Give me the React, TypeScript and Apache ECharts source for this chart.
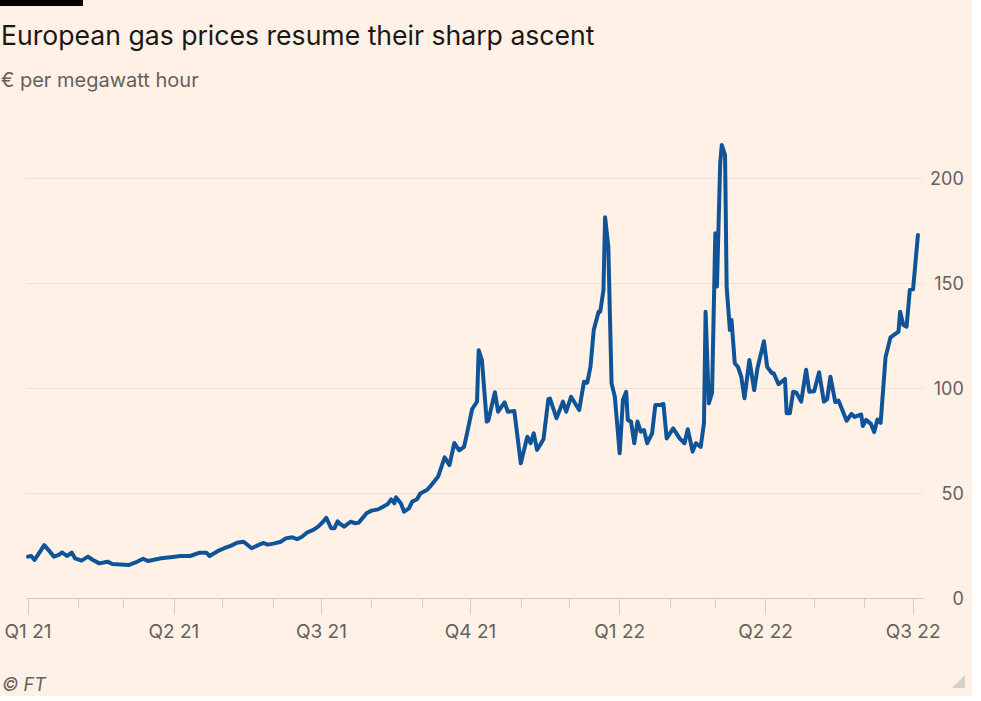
import React, { useEffect, useRef } from "react";
import * as echarts from "echarts";

const dates: string[] = [
  "2021-01-01","2021-01-03","2021-01-05","2021-01-08","2021-01-11","2021-01-15","2021-01-17","2021-01-20","2021-01-22","2021-01-25",
  "2021-01-28","2021-01-30","2021-02-03","2021-02-07","2021-02-10","2021-02-14","2021-02-19","2021-02-22","2021-02-27","2021-03-04",
  "2021-03-08","2021-03-13","2021-03-16","2021-03-19","2021-03-24","2021-03-30","2021-04-05","2021-04-11","2021-04-17","2021-04-21",
  "2021-04-23","2021-04-28","2021-05-02","2021-05-06","2021-05-10","2021-05-14","2021-05-19","2021-05-23","2021-05-26","2021-05-29",
  "2021-06-02","2021-06-06","2021-06-09","2021-06-13","2021-06-16","2021-06-19","2021-06-22","2021-06-26","2021-06-29","2021-07-02",
  "2021-07-04","2021-07-07","2021-07-09","2021-07-11","2021-07-12","2021-07-15","2021-07-19","2021-07-22","2021-07-24","2021-07-29",
  "2021-08-01","2021-08-05","2021-08-08","2021-08-11","2021-08-13","2021-08-15","2021-08-16","2021-08-19","2021-08-21","2021-08-24",
  "2021-08-26","2021-08-29","2021-08-31","2021-09-04","2021-09-06","2021-09-11","2021-09-15","2021-09-18","2021-09-21","2021-09-24",
  "2021-09-27","2021-09-29","2021-10-02","2021-10-05","2021-10-06","2021-10-08","2021-10-11","2021-10-12","2021-10-16","2021-10-18",
  "2021-10-22","2021-10-24","2021-10-28","2021-11-01","2021-11-05","2021-11-07","2021-11-09","2021-11-11","2021-11-15","2021-11-18",
  "2021-11-19","2021-11-23","2021-11-27","2021-11-29","2021-12-02","2021-12-07","2021-12-10","2021-12-12","2021-12-14","2021-12-16",
  "2021-12-19","2021-12-20","2021-12-22","2021-12-23","2021-12-25","2021-12-26","2021-12-27","2021-12-29","2022-01-01","2022-01-03",
  "2022-01-05","2022-01-06","2022-01-08","2022-01-10","2022-01-12","2022-01-14","2022-01-16","2022-01-18","2022-01-21","2022-01-23",
  "2022-01-26","2022-01-28","2022-01-30","2022-02-03","2022-02-07","2022-02-10","2022-02-12","2022-02-15","2022-02-17","2022-02-20",
  "2022-02-22","2022-02-23","2022-02-25","2022-02-27","2022-03-01","2022-03-02","2022-03-04","2022-03-05","2022-03-07","2022-03-08",
  "2022-03-10","2022-03-11","2022-03-13","2022-03-15","2022-03-17","2022-03-19","2022-03-22","2022-03-25","2022-03-27","2022-03-31",
  "2022-04-02","2022-04-05","2022-04-06","2022-04-09","2022-04-13","2022-04-14","2022-04-16","2022-04-18","2022-04-20","2022-04-23",
  "2022-04-26","2022-04-28","2022-05-01","2022-05-04","2022-05-07","2022-05-09","2022-05-11","2022-05-14","2022-05-16","2022-05-21",
  "2022-05-24","2022-05-26","2022-05-30","2022-05-31","2022-06-02","2022-06-05","2022-06-07","2022-06-09","2022-06-11","2022-06-14",
  "2022-06-17","2022-06-19","2022-06-22","2022-06-23","2022-06-25","2022-06-27","2022-06-29","2022-07-01","2022-07-04",
];

const prices: number[] = [
  19.7, 20, 18.1, 21.6, 25.2, 21.6, 19.7, 20.5, 21.7, 20,
  21.6, 18.9, 17.8, 19.7, 18.1, 16.5, 17.3, 16.2, 16, 15.7,
  16.8, 18.7, 17.6, 18.1, 18.9, 19.4, 20, 20, 21.6, 21.6,
  20, 22.3, 23.7, 24.8, 26.3, 26.8, 23.7, 25.2, 26.2, 25.4,
  26, 26.8, 28.4, 28.9, 28, 29.2, 31.1, 32.4, 34, 36.3,
  38.2, 33.2, 33.2, 36.5, 35.6, 34, 36.3, 35.6, 35.9, 40.5,
  41.6, 42.2, 43.5, 44.8, 47, 45.1, 48, 45.1, 41.1, 42.7,
  45.9, 47, 49.8, 51.4, 53, 57.8, 67, 63.3, 73.8, 70.3,
  72, 79, 90, 93.5, 118, 113.3, 84, 84.6, 98, 88.7,
  93.2, 88.7, 89, 64.1, 76.8, 73.7, 78.4, 70.5, 75.6, 94.7,
  95, 85.6, 93.5, 88.7, 95.8, 89.5, 103, 102.5, 110.2, 127.6,
  136.3, 136.3, 146.7, 181.3, 167.3, 134, 102.2, 95.9, 68.9, 94.3,
  98.2, 84.8, 84, 73.7, 84, 79.2, 80, 73.7, 78.4, 91.9,
  91.9, 92.4, 76, 80.8, 76, 73.7, 80.4, 69.7, 73.7, 72,
  83.2, 136.3, 92.7, 97.8, 173.7, 148.3, 207, 215.7, 211, 148,
  127.6, 132.4, 111.8, 110, 105.4, 95.1, 113.3, 99, 109.4, 122.3,
  110, 107, 107, 101.8, 104.3, 88, 88, 98.2, 97.8, 93.5,
  108.7, 98.2, 98.4, 107.5, 93.5, 94.7, 105.4, 93.3, 94, 84.4,
  87.7, 86.2, 87.4, 81.9, 84.8, 82.9, 79, 85, 83.4, 114.5,
  124, 125.2, 126.8, 136.3, 130, 129.2, 146.7, 147, 172.9,
];

const quarterDates: string[] = ["2021-01-01","2021-04-01","2021-07-01","2021-10-01","2022-01-01","2022-04-01","2022-07-01"];
const quarterLabels: string[] = ["Q1 21","Q2 21","Q3 21","Q4 21","Q1 22","Q2 22","Q3 22"];
const monthDates: string[] = [
  "2021-01-01","2021-02-01","2021-03-01","2021-04-01","2021-05-01","2021-06-01","2021-07-01","2021-08-01","2021-09-01","2021-10-01",
  "2021-11-01","2021-12-01","2022-01-01","2022-02-01","2022-03-01","2022-04-01","2022-05-01","2022-06-01","2022-07-01",
];
const gridValues: number[] = [50, 100, 150, 200];
const axisStart = "2020-12-31";
const axisEnd = "2022-07-07";

const FONT = 'Inter, "Open Sans", "Noto Sans", sans-serif';

function ts(s: string): number {
  const [y, m, d] = s.split("-").map(Number);
  return Date.UTC(y, m - 1, d);
}

export default function App() {
  const ref = useRef<HTMLDivElement>(null);

  useEffect(() => {
    if (!ref.current) return;
    const chart = echarts.init(ref.current, undefined, { renderer: "svg" });
    const quarterTs = quarterDates.map(ts);
    const monthTs = monthDates.map(ts);
    const seriesData = dates.map((d, i) => [ts(d), prices[i]]);
    const gridCommon = { left: 26.4, right: 49.2, top: 136, bottom: 98 };

    chart.setOption({
      animation: false,
      backgroundColor: "#fff1e5",
      grid: [gridCommon, gridCommon],
      xAxis: [
        {
          type: "value",
          gridIndex: 0,
          min: ts(axisStart),
          max: ts(axisEnd),
          splitLine: { show: false },
          axisLine: { show: true, lineStyle: { color: "#cfc8c1", width: 1 } },
          axisTick: { show: true, length: 10, customValues: monthTs, lineStyle: { color: "#d3ccc5", width: 1 } },
          axisLabel: {
            customValues: quarterTs,
            margin: 24,
            color: "#66605c",
            fontSize: 19,
            fontFamily: FONT,
            formatter: (v: number) => {
              let best = 0;
              for (let i = 1; i < quarterTs.length; i++) {
                if (Math.abs(quarterTs[i] - v) < Math.abs(quarterTs[best] - v)) best = i;
              }
              return quarterLabels[best];
            },
          },
        },
        {
          type: "value",
          gridIndex: 1,
          min: ts(axisStart),
          max: ts(axisEnd),
          splitLine: { show: false },
          axisLine: { show: false },
          axisLabel: { show: false },
          axisTick: { show: true, length: 17, customValues: quarterTs, lineStyle: { color: "#d3ccc5", width: 1 } },
        },
      ],
      yAxis: [
        {
          type: "value",
          gridIndex: 0,
          position: "right",
          min: 0,
          max: 220,
          interval: 50,
          splitLine: { show: false },
          axisLine: { show: false },
          axisTick: { show: false },
          axisLabel: {
            showMaxLabel: false,
            align: "right",
            margin: 41,
            color: "#66605c",
            fontSize: 18,
            fontFamily: FONT,
          },
        },
        { type: "value", gridIndex: 1, min: 0, max: 220, show: false },
      ],
      series: [
        {
          type: "line",
          xAxisIndex: 0,
          yAxisIndex: 0,
          data: seriesData,
          symbol: "none",
          silent: true,
          z: 1,
          lineStyle: { opacity: 0, width: 0 },
          markLine: {
            silent: true,
            symbol: ["none", "none"],
            label: { show: false },
            lineStyle: { color: "#ebe2d9", width: 1, type: "solid" },
            data: gridValues.map((v) => ({ yAxis: v })),
          },
        },
        {
          type: "line",
          xAxisIndex: 0,
          yAxisIndex: 0,
          data: seriesData,
          symbol: "none",
          showSymbol: false,
          z: 5,
          lineStyle: { color: "#0f5499", width: 4, join: "round", cap: "round" },
        },
        { type: "line", xAxisIndex: 1, yAxisIndex: 1, data: [] },
      ],
      graphic: {
        elements: [
          { type: "rect", left: 0, top: 0, shape: { width: 83, height: 6 }, style: { fill: "#000000" } },
          {
            type: "text",
            x: 1,
            y: 35,
            style: {
              text: "European gas prices resume their sharp ascent",
              font: `normal 26.6px ${FONT}`,
              fill: "#1a1817",
              verticalAlign: "middle",
              textVerticalAlign: "middle",
            },
          },
          {
            type: "text",
            x: 1,
            y: 80,
            style: {
              text: "€ per megawatt hour",
              font: `normal 20px ${FONT}`,
              fill: "#66605c",
              verticalAlign: "middle",
              textVerticalAlign: "middle",
            },
          },
          {
            type: "text",
            x: 2,
            y: 684,
            style: {
              text: "© FT",
              font: `italic 18px ${FONT}`,
              fill: "#66605c",
              verticalAlign: "middle",
              textVerticalAlign: "middle",
            },
          },
          {
            type: "polygon",
            shape: { points: [[965, 675], [965, 688], [952, 688]] },
            style: { fill: "#d6d0ca" },
          },
        ],
      },
    });
    return () => chart.dispose();
  }, []);

  return (
    <div style={{ position: "absolute", left: 0, top: 0, width: 981, height: 701, background: "#ffffff" }}>
      <div ref={ref} style={{ position: "absolute", left: 0, top: 0, width: 972, height: 696 }} />
    </div>
  );
}
